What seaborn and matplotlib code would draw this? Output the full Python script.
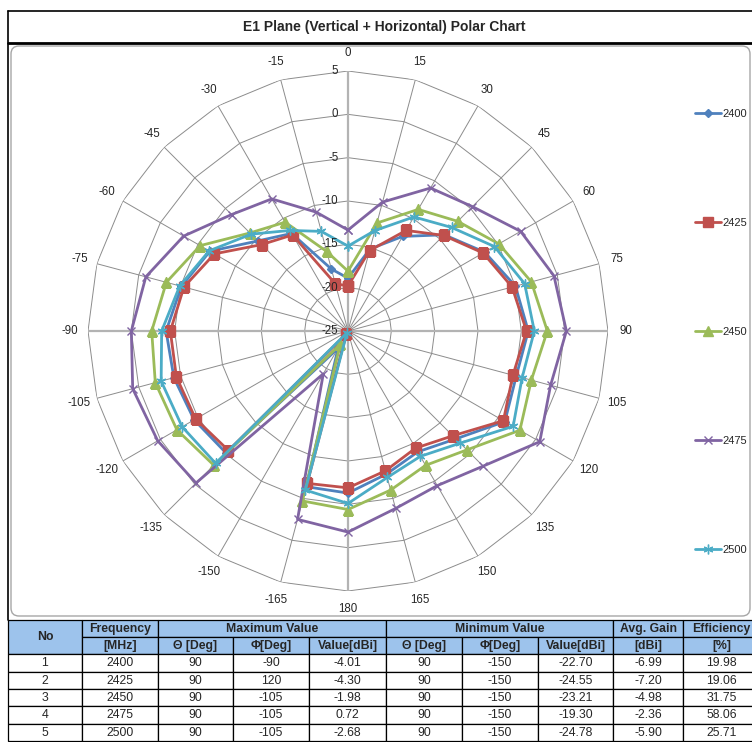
import numpy as np
import matplotlib
matplotlib.use("Agg")
import matplotlib.pyplot as plt
import seaborn as sns
from matplotlib.patches import FancyBboxPatch, Rectangle

# ---- chart data (dBi per azimuth) ----
angle_labels = ["0", "15", "30", "45", "60", "75", "90", "105", "120", "135", "150", "165",
                "180", "-165", "-150", "-135", "-120", "-105", "-90", "-75", "-60", "-45", "-30", "-15"]
frequencies = ["2400", "2425", "2450", "2475", "2500"]

gain_2400 = [-18.9, -15.2, -12.4, -9.3, -6.8, -5.0, -4.2, -4.9, -4.1, -7.4, -8.9, -7.9,
             -6.3, -6.4, -22.70, -5.1, -4.5, -4.2, -4.01, -5.1, -6.6, -10.3, -12.0, -17.6]
gain_2425 = [-19.8, -15.4, -11.6, -9.4, -7.0, -5.4, -4.4, -5.3, -4.30, -7.9, -9.4, -8.3,
             -6.9, -6.8, -24.55, -5.5, -4.7, -4.5, -4.5, -5.4, -7.2, -10.9, -12.2, -19.35]
gain_2450 = [-18.1, -12.1, -8.8, -7.1, -4.9, -3.1, -2.0, -3.1, -2.1, -5.6, -7.1, -6.0,
             -4.4, -4.7, -23.21, -3.1, -2.2, -1.98, -2.35, -3.3, -5.3, -9.0, -10.5, -15.5]
gain_2475 = [-13.35, -9.6, -5.95, -4.7, -2.0, -0.4, 0.2, -0.8, 0.55, -2.95, -4.4, -3.8,
             -1.8, -2.5, -19.30, -0.2, 0.35, 0.72, 0.0, -0.85, -3.1, -6.0, -7.4, -10.8]
gain_2500 = [-15.2, -13.0, -9.8, -8.1, -5.5, -3.9, -3.5, -4.2, -3.0, -6.7, -8.3, -7.5,
             -5.1, -6.0, -24.78, -3.4, -2.9, -2.68, -3.5, -4.9, -6.5, -9.2, -11.6, -13.1]

ring_levels = [5, 0, -5, -10, -15, -20, -25]

# ---- table data ----
table_no = ["1", "2", "3", "4", "5"]
max_theta = ["90", "90", "90", "90", "90"]
max_phi = ["-90", "120", "-105", "-105", "-105"]
max_value = ["-4.01", "-4.30", "-1.98", "0.72", "-2.68"]
min_theta = ["90", "90", "90", "90", "90"]
min_phi = ["-150", "-150", "-150", "-150", "-150"]
min_value = ["-22.70", "-24.55", "-23.21", "-19.30", "-24.78"]
avg_gain = ["-6.99", "-7.20", "-4.98", "-2.36", "-5.90"]
efficiency = ["19.98", "19.06", "31.75", "58.06", "25.71"]

colors = ["#4F81BD", "#C0504D", "#9BBB59", "#8064A2", "#4BACC6"]
markers = ["D", "s", "^", "x", (6, 2, 0)]
marker_sizes = [4.5, 6.5, 6.5, 6, 7]

sns.set_theme(style="white")
plt.rcParams["font.family"] = ["Liberation Sans Narrow", "Liberation Sans", "DejaVu Sans"]
chart_font = ["Liberation Sans", "DejaVu Sans"]

W, H = 752, 742
fig = plt.figure(figsize=(W / 100, H / 100), dpi=100)

# decoration / table layer in pixel coordinates
deco = fig.add_axes([0, 0, 1, 1])
deco.set_xlim(0, W)
deco.set_ylim(H, 0)
deco.axis("off")

deco.plot([8, 8], [11, 620], color="black", lw=1.2)
deco.plot([8, 760], [11, 11], color="black", lw=1.2)
deco.plot([8, 760], [43, 43], color="black", lw=2)
deco.add_patch(FancyBboxPatch((11, 46), 739, 570, boxstyle="round,pad=0,rounding_size=8",
                              ec="#a6a6a6", fc="white", lw=1))
deco.text(384, 27, "E1 Plane (Vertical + Horizontal) Polar Chart", ha="center", va="center",
          fontsize=10, fontweight="bold")

# table
col_edges = [8, 82, 158, 233, 309, 386, 462, 538, 613, 683, 760]
row_edges = [620, 637, 654, 671.5, 689, 706, 723.5, 741]
header_bg = "#9dc3ec"


def cell(c0, c1, r0, r1, text, bg="white", bold=False):
    x0, x1 = col_edges[c0], col_edges[c1]
    y0, y1 = row_edges[r0], row_edges[r1]
    deco.add_patch(Rectangle((x0, y0), x1 - x0, y1 - y0, fc=bg, ec="black", lw=0.9))
    deco.text((x0 + x1) / 2, (y0 + y1) / 2 + 0.5, text, ha="center", va="center",
              fontsize=8.8, fontweight="bold" if bold else "normal")


cell(0, 1, 0, 2, "No", header_bg, True)
cell(1, 2, 0, 1, "Frequency", header_bg, True)
cell(2, 5, 0, 1, "Maximum Value", header_bg, True)
cell(5, 8, 0, 1, "Minimum Value", header_bg, True)
cell(8, 9, 0, 1, "Avg. Gain", header_bg, True)
cell(9, 10, 0, 1, "Efficiency", header_bg, True)
sub_headers = ["[MHz]", "Θ [Deg]", "Φ[Deg]", "Value[dBi]", "Θ [Deg]", "Φ[Deg]",
               "Value[dBi]", "[dBi]", "[%]"]
for i, txt in enumerate(sub_headers):
    cell(i + 1, i + 2, 1, 2, txt, header_bg, True)

columns = [table_no, frequencies, max_theta, max_phi, max_value,
           min_theta, min_phi, min_value, avg_gain, efficiency]
for ci, col in enumerate(columns):
    for ri, val in enumerate(col):
        cell(ci, ci + 1, ri + 2, ri + 3, val)

# ---- radar chart ----
ax = fig.add_axes([88 / W, 1 - 591 / H, 520 / W, 520 / H], projection="polar")
ax.set_facecolor("none")
ax.set_theta_zero_location("N")
ax.set_theta_direction(-1)
ax.grid(False)
ax.spines["polar"].set_visible(False)

theta = np.deg2rad([int(a) % 360 for a in angle_labels])
theta_closed = np.append(theta, theta[0] + 2 * np.pi)

for lvl in ring_levels[:-1]:
    ax.plot(theta_closed, [lvl] * len(theta_closed), color="#8c8c8c", lw=0.7, zorder=1)
for t in theta:
    major = np.isclose(t % (np.pi / 2), 0)
    ax.plot([t, t], [-25, 5], color="#b3b3b3" if major else "#8c8c8c",
            lw=1.6 if major else 0.7, zorder=1)

handles = []
for freq, vals, col, mk, ms in zip(frequencies,
                                   [gain_2400, gain_2425, gain_2450, gain_2475, gain_2500],
                                   colors, markers, marker_sizes):
    sns.lineplot(x=theta_closed, y=np.append(vals, vals[0]), ax=ax, sort=False,
                 estimator=None, color=col, lw=2, marker=mk, markersize=ms,
                 markeredgecolor=col, markerfacecolor=col,
                 markeredgewidth=1.0, legend=False, zorder=3)
    line = ax.lines[-1]
    line.set_label(freq)
    handles.append(line)

ax.set_ylim(-25, 5)
ax.set_yticks([])
ax.set_xticks(theta)
ax.set_xticklabels(angle_labels, fontsize=8.3, family=chart_font)
ax.tick_params(axis="x", pad=0)

for lvl in ring_levels:
    ax.annotate(str(lvl), xy=(0, lvl), xytext=(-7, 0), textcoords="offset points",
                ha="right", va="center", fontsize=8.3, family=chart_font, zorder=4)

fig.legend(handles=handles, labels=frequencies, loc="center left",
           bbox_to_anchor=(695 / W, 1 - 332 / H), frameon=False,
           prop={"family": chart_font, "size": 8},
           handlelength=2.3, handletextpad=0.15, labelspacing=8.9,
           borderpad=0, borderaxespad=0)

fig.savefig("out.png", dpi=100, facecolor="white")
